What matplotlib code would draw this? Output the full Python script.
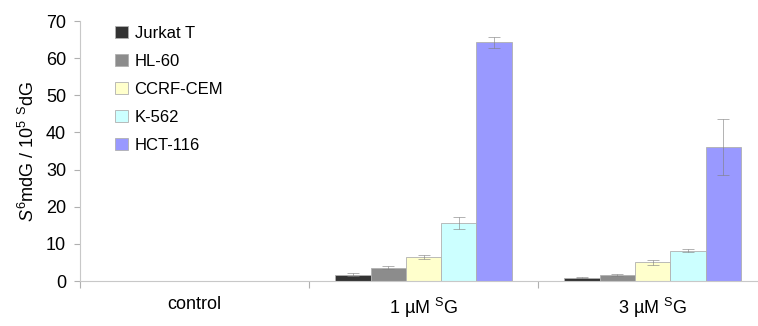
import matplotlib.pyplot as plt
import numpy as np

plt.rcParams['font.family'] = ['Liberation Sans', 'DejaVu Sans']
plt.rcParams['mathtext.fontset'] = 'custom'
plt.rcParams['mathtext.rm'] = 'Liberation Sans'
plt.rcParams['mathtext.it'] = 'Liberation Sans:italic'

groups = ['control', '1 µM $^{\\mathrm{S}}$G', '3 µM $^{\\mathrm{S}}$G']
cells = ['Jurkat T', 'HL-60', 'CCRF-CEM', 'K-562', 'HCT-116']
values = [
    [0, 1.7, 0.9],
    [0, 3.6, 1.7],
    [0, 6.5, 5.0],
    [0, 15.6, 8.2],
    [0, 64.3, 36.0],
]
errors = [
    [0, 0.4, 0.1],
    [0, 0.4, 0.3],
    [0, 0.6, 0.7],
    [0, 1.5, 0.3],
    [0, 1.5, 7.5],
]
colors = ['#333333', '#8c8c8c', '#ffffcc', '#ccffff', '#9999ff']

fig = plt.figure(figsize=(7.58, 3.26), dpi=100)
ax = fig.add_axes([80/758, 45/326, 678/758, 260/326])

x = np.arange(len(groups))
w = 0.154
for i in range(len(cells)):
    pos = x + (i - 2) * w
    ax.bar(pos, values[i], w, color=colors[i], edgecolor='#b0b0b0', linewidth=0.6,
           label=cells[i], zorder=2)
    ax.errorbar(pos[1:], values[i][1:], yerr=errors[i][1:], fmt='none',
                ecolor='#808080', elinewidth=0.7, capsize=4, capthick=0.7, alpha=0.6, zorder=3)

ax.set_xlim(-0.5, 2.46)
ax.set_ylim(0, 70)
ax.set_yticks(range(0, 71, 10))
ax.set_xticks([-0.5, 0.5, 1.5], minor=False, labels=['', '', ''])
ax.set_xticks(x, minor=True, labels=groups)
ax.tick_params(axis='x', which='major', length=5, color='#b0b0b0', direction='out')
ax.tick_params(axis='x', which='minor', length=0, pad=11, labelsize=13)
ax.tick_params(axis='y', length=4, color='#b0b0b0', labelsize=13, pad=6)
for s in ['top', 'right']:
    ax.spines[s].set_visible(False)
ax.spines['left'].set_color('#c8c8c8')
ax.spines['bottom'].set_color('#c8c8c8')

ax.set_ylabel('$\\mathit{S}^6$mdG / 10$^5$ $^{\\mathrm{S}}$dG', fontsize=13, labelpad=6)

ax.legend(loc='upper left', bbox_to_anchor=(0.03, 1.04), frameon=False, fontsize=12,
          handlelength=0.75, handleheight=0.75, handletextpad=0.4, labelspacing=0.78)

plt.savefig('out.png')
